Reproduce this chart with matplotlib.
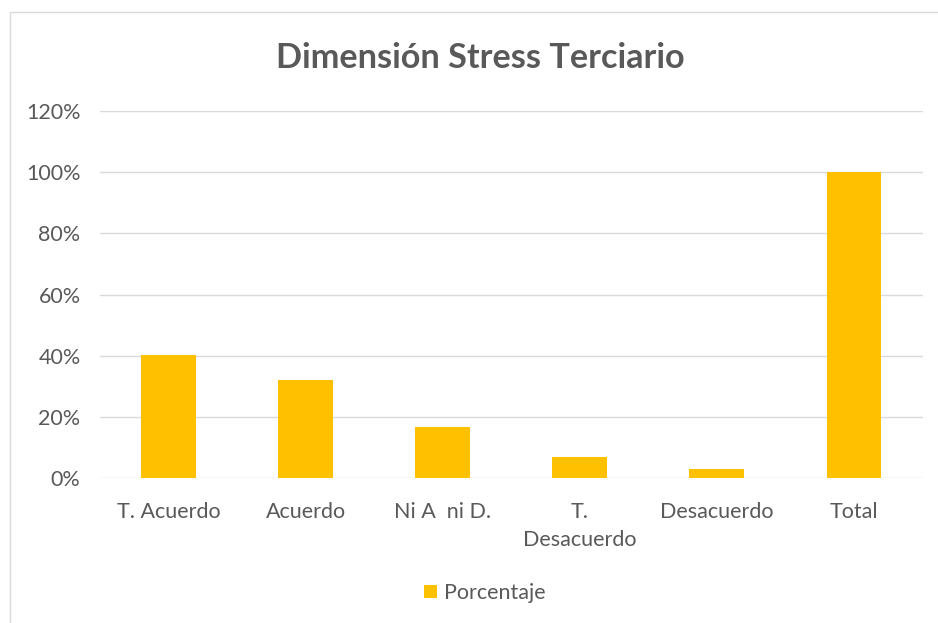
import matplotlib
matplotlib.use('Agg')
import matplotlib.pyplot as plt
from matplotlib.patches import Rectangle
from matplotlib.ticker import PercentFormatter

# Data
categories = ['T. Acuerdo', 'Acuerdo', 'Ni A  ni D.', 'T.\nDesacuerdo', 'Desacuerdo', 'Total']
porcentaje = [0.401, 0.322, 0.166, 0.069, 0.029, 1.0]
y_ticks = [0, 0.2, 0.4, 0.6, 0.8, 1.0, 1.2]

TEXT = '#595959'
GRID = '#d9d9d9'
BAR = '#ffc000'

plt.rcParams['font.family'] = ['Lato', 'DejaVu Sans']

fig = plt.figure(figsize=(9.38, 6.23), dpi=100)
ax = fig.add_axes([0.1066, 0.2327, 0.8769, 0.5891])

# chart area border
fig.patches.append(Rectangle((10 / 938, -0.01), 1.0, 1 - 12 / 623 + 0.01,
                             transform=fig.transFigure, fill=False,
                             ec=GRID, lw=1))

x = range(len(categories))
ax.bar(x, porcentaje, width=0.4, color=BAR, label='Porcentaje', zorder=3)

ax.set_xlim(-0.5, len(categories) - 0.5)
ax.set_ylim(0, 1.2)
ax.set_yticks(y_ticks)
ax.yaxis.set_major_formatter(PercentFormatter(1.0, decimals=0))
ax.set_xticks(list(x))
ax.set_xticklabels(categories, linespacing=1.55)
ax.tick_params(axis='both', length=0, labelsize=15.5, colors=TEXT)
ax.tick_params(axis='x', pad=17)
ax.tick_params(axis='y', pad=14)

ax.grid(axis='y', color=GRID, lw=1, zorder=0)
for s in ax.spines.values():
    s.set_visible(False)

fig.text(0.512, 1 - 58 / 623, 'Dimensión Stress Terciario', ha='center', va='center',
         fontsize=24.7, fontweight='bold', color=TEXT)

fig.legend(loc='center', bbox_to_anchor=(0.517, 1 - 593 / 623), frameon=False,
           fontsize=15.5, labelcolor=TEXT, handlelength=0.6, handleheight=0.6,
           handletextpad=0.3)

fig.savefig('out.png', dpi=100)
